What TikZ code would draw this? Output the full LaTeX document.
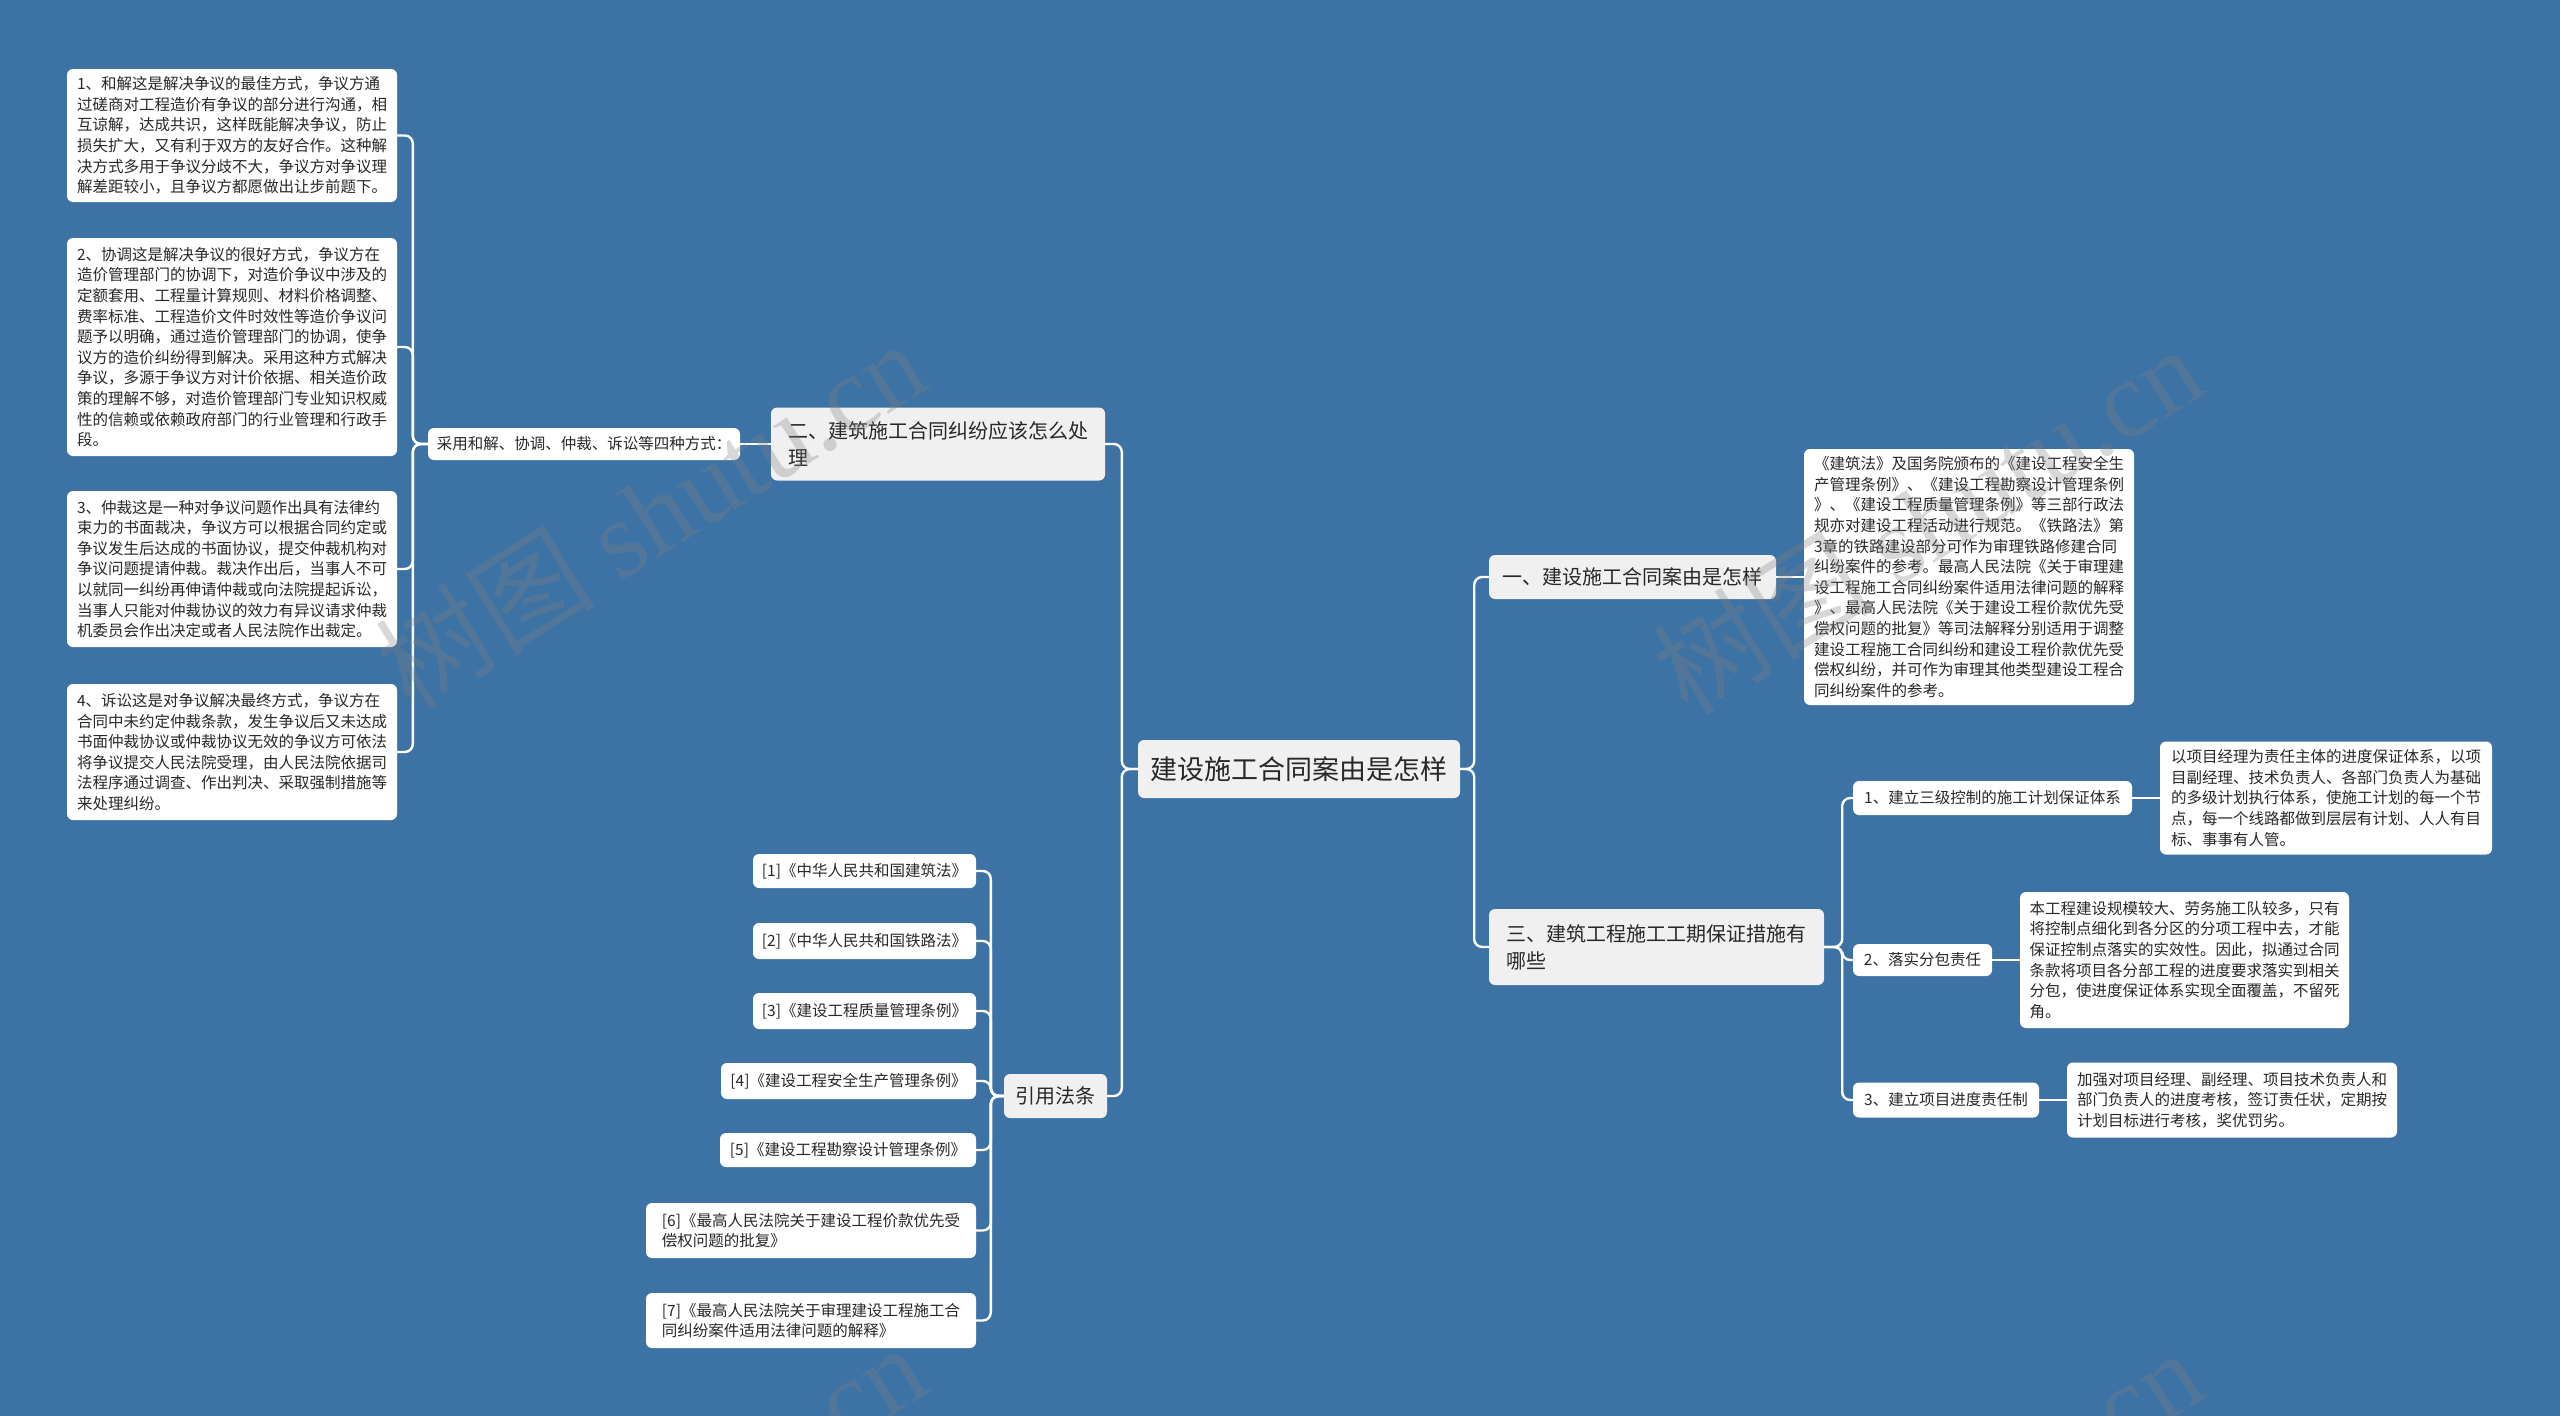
\documentclass[tikz,border=0pt]{standalone}
\usepackage{fontspec}
\setmainfont{Noto Sans CJK SC}
\newfontfamily\wmlatin{Liberation Serif}
\definecolor{bgc}{RGB}{61,114,164}
\definecolor{greyfill}{RGB}{240,240,240}
\definecolor{txtc}{RGB}{40,40,40}
\tikzset{
  box/.style={rounded corners=6pt, text=txtc, align=left, inner sep=3pt, anchor=center},
  leaf/.style={box, fill=white, font=\fontsize{15.5}{20.6}\selectfont},
  branch/.style={box, fill=greyfill, font=\fontsize{20}{27}\selectfont},
  rootbox/.style={box, fill=greyfill, font=\fontsize{27}{32}\selectfont},
  conn/.style={draw=white, line width=2.4pt, rounded corners=8pt},
  wm/.style={text=gray, opacity=0.3, rotate=32, font=\fontsize{110}{120}\selectfont}
}
\begin{document}
\begin{tikzpicture}[x=1pt,y=-1pt]
\fill[bgc] (0,0) rectangle (2560,1416);
\useasboundingbox (0,0) rectangle (2560,1416);

% root
\node[rootbox, minimum width=322pt, minimum height=58pt] (root) at (1299,769) {建设施工合同案由是怎样};

% right branch 1
\node[branch, minimum width=287pt, minimum height=44pt] (b1) at (1632.5,577) {一、建设施工合同案由是怎样};
\node[leaf, minimum width=330pt, minimum height=256pt] (b1t) at (1969,577) {《建筑法》及国务院颁布的《建设工程安全生\\产管理条例》、《建设工程勘察设计管理条例\\》、《建设工程质量管理条例》等三部行政法\\规亦对建设工程活动进行规范。《铁路法》第\\3章的铁路建设部分可作为审理铁路修建合同\\纠纷案件的参考。最高人民法院《关于审理建\\设工程施工合同纠纷案件适用法律问题的解释\\》、最高人民法院《关于建设工程价款优先受\\偿权问题的批复》等司法解释分别适用于调整\\建设工程施工合同纠纷和建设工程价款优先受\\偿权纠纷，并可作为审理其他类型建设工程合\\同纠纷案件的参考。};

% right branch 3
\node[branch, minimum width=335pt, minimum height=76pt] (b3) at (1656.5,947) {三、建筑工程施工工期保证措施有\\哪些};
\node[leaf, minimum width=279pt, minimum height=34pt] (c1) at (1992.5,798) {1、建立三级控制的施工计划保证体系};
\node[leaf, minimum width=332pt, minimum height=113pt] (c1t) at (2326,798) {以项目经理为责任主体的进度保证体系，以项\\目副经理、技术负责人、各部门负责人为基础\\的多级计划执行体系，使施工计划的每一个节\\点，每一个线路都做到层层有计划、人人有目\\标、事事有人管。};
\node[leaf, minimum width=139pt, minimum height=32pt] (c2) at (1922.5,960) {2、落实分包责任};
\node[leaf, minimum width=329pt, minimum height=136pt] (c2t) at (2184.5,960) {本工程建设规模较大、劳务施工队较多，只有\\将控制点细化到各分区的分项工程中去，才能\\保证控制点落实的实效性。因此，拟通过合同\\条款将项目各分部工程的进度要求落实到相关\\分包，使进度保证体系实现全面覆盖，不留死\\角。};
\node[leaf, minimum width=186pt, minimum height=35pt] (c3) at (1946,1100) {3、建立项目进度责任制};
\node[leaf, minimum width=330pt, minimum height=75pt] (c3t) at (2232,1100) {加强对项目经理、副经理、项目技术负责人和\\部门负责人的进度考核，签订责任状，定期按\\计划目标进行考核，奖优罚劣。};

% left branch 2
\node[branch, minimum width=334pt, minimum height=73pt] (b2) at (938,444) {二、建筑施工合同纠纷应该怎么处\\理};
\node[leaf, minimum width=312pt, minimum height=32pt] (way) at (584,444) {采用和解、协调、仲裁、诉讼等四种方式：};
\node[leaf, minimum width=330pt, minimum height=133pt] (L1) at (232,135.5) {1、和解这是解决争议的最佳方式，争议方通\\过磋商对工程造价有争议的部分进行沟通，相\\互谅解，达成共识，这样既能解决争议，防止\\损失扩大，又有利于双方的友好合作。这种解\\决方式多用于争议分歧不大，争议方对争议理\\解差距较小，且争议方都愿做出让步前题下。};
\node[leaf, minimum width=330pt, minimum height=218pt] (L2) at (232,347) {2、协调这是解决争议的很好方式，争议方在\\造价管理部门的协调下，对造价争议中涉及的\\定额套用、工程量计算规则、材料价格调整、\\费率标准、工程造价文件时效性等造价争议问\\题予以明确，通过造价管理部门的协调，使争\\议方的造价纠纷得到解决。采用这种方式解决\\争议，多源于争议方对计价依据、相关造价政\\策的理解不够，对造价管理部门专业知识权威\\性的信赖或依赖政府部门的行业管理和行政手\\段。};
\node[leaf, minimum width=330pt, minimum height=156pt] (L3) at (232,569) {3、仲裁这是一种对争议问题作出具有法律约\\束力的书面裁决，争议方可以根据合同约定或\\争议发生后达成的书面协议，提交仲裁机构对\\争议问题提请仲裁。裁决作出后，当事人不可\\以就同一纠纷再伸请仲裁或向法院提起诉讼，\\当事人只能对仲裁协议的效力有异议请求仲裁\\机委员会作出决定或者人民法院作出裁定。};
\node[leaf, minimum width=330pt, minimum height=136pt] (L4) at (232,752) {4、诉讼这是对争议解决最终方式，争议方在\\合同中未约定仲裁条款，发生争议后又未达成\\书面仲裁协议或仲裁协议无效的争议方可依法\\将争议提交人民法院受理，由人民法院依据司\\法程序通过调查、作出判决、采取强制措施等\\来处理纠纷。};

% left branch: references
\node[branch, minimum width=103pt, minimum height=44pt] (cite) at (1055.5,1096) {引用法条};
\node[leaf, minimum width=223pt, minimum height=34pt] (r1) at (864.5,871) {[1]《中华人民共和国建筑法》};
\node[leaf, minimum width=223pt, minimum height=36pt] (r2) at (864.5,941) {[2]《中华人民共和国铁路法》};
\node[leaf, minimum width=223pt, minimum height=36pt] (r3) at (864.5,1011) {[3]《建设工程质量管理条例》};
\node[leaf, minimum width=255pt, minimum height=36pt] (r4) at (848.5,1081) {[4]《建设工程安全生产管理条例》};
\node[leaf, minimum width=256pt, minimum height=34pt] (r5) at (848,1150) {[5]《建设工程勘察设计管理条例》};
\node[leaf, minimum width=330pt, minimum height=55pt] (r6) at (811,1230.5) {[6]《最高人民法院关于建设工程价款优先受\\偿权问题的批复》};
\node[leaf, minimum width=330pt, minimum height=55pt] (r7) at (811,1320.5) {[7]《最高人民法院关于审理建设工程施工合\\同纠纷案件适用法律问题的解释》};

% connectors
\draw[conn] (root.east) -- ++(14,0) |- (b1.west);
\draw[conn] (root.east) -- ++(14,0) |- (b3.west);
\draw[conn] (root.west) -- ++(-16,0) |- (b2.east);
\draw[conn] (root.west) -- ++(-16,0) |- (cite.east);
\draw[conn] (b1.east) -- (b1t.west);
\foreach \c in {c1,c2,c3} \draw[conn] (b3.east) -- ++(18,0) |- (\c.west);
\draw[conn] (c1.east) -- (c1t.west);
\draw[conn] (c2.east) -- (c2t.west);
\draw[conn] (c3.east) -- (c3t.west);
\draw[conn] (b2.west) -- (way.east);
\foreach \c in {L1,L2,L3,L4} \draw[conn] (way.west) -- ++(-15,0) |- (\c.east);
\foreach \c in {r1,r2,r3,r4,r5,r6,r7} \draw[conn] (cite.west) -- ++(-13,0) |- (\c.east);

% watermarks
\begin{scope}
\clip (0,0) rectangle (2560,1416);
\node[wm] (wm1) at (650,514) {树图 {\wmlatin shutu.cn}};
\node[wm] (wm2) at (1927,519) {树图 {\wmlatin shutu.cn}};
\node[wm] (wm3) at (650,1518) {树图 {\wmlatin shutu.cn}};
\node[wm] (wm4) at (1927,1523) {树图 {\wmlatin shutu.cn}};
\end{scope}
\end{tikzpicture}
\end{document}
